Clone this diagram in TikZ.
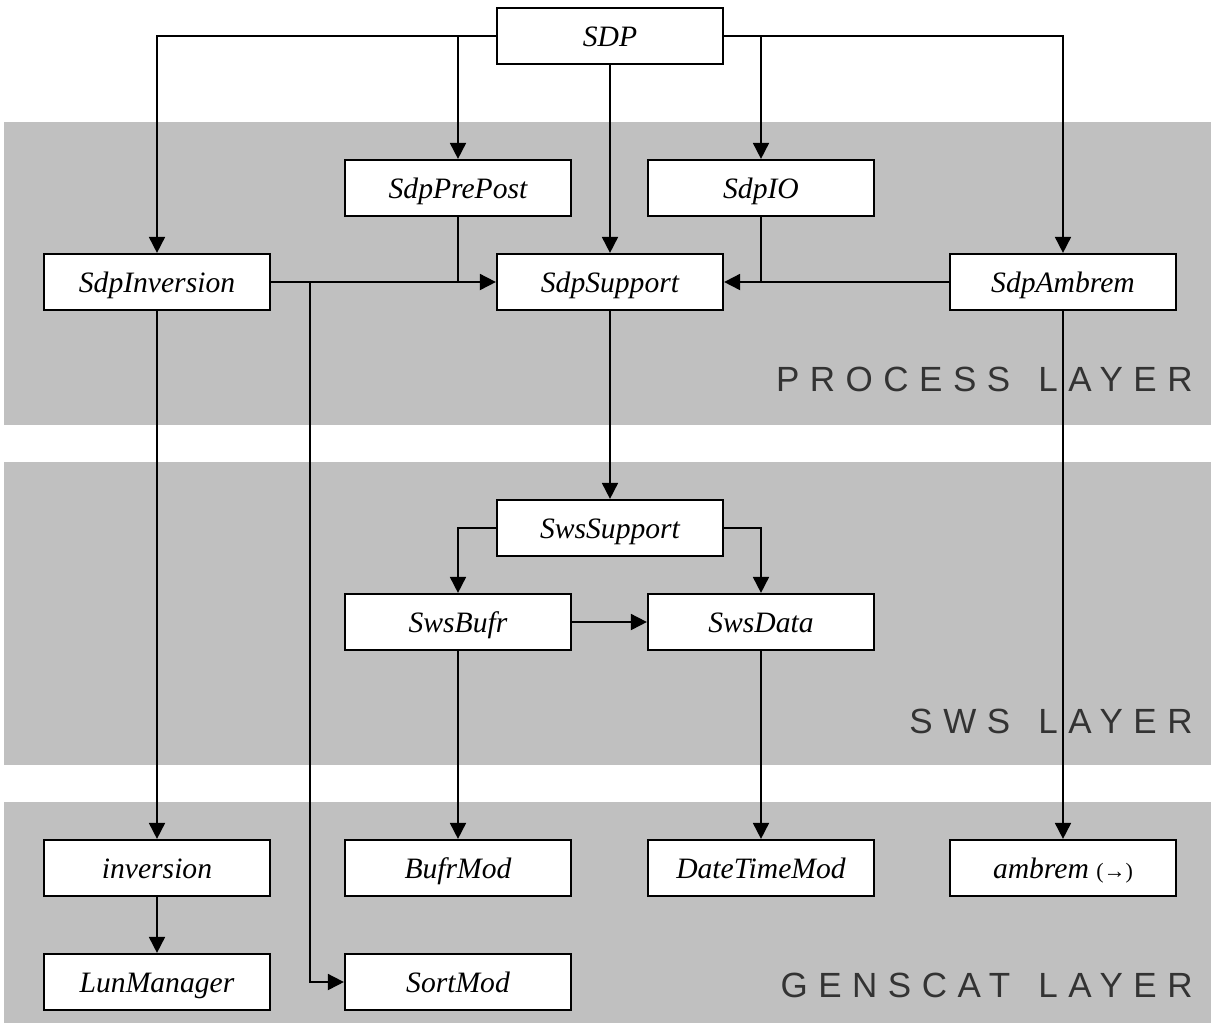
\documentclass[tikz,border=0pt]{standalone}
\usepackage{fontspec}
\setmainfont{Liberation Serif}
\newfontfamily\layerfont[LetterSpace=30]{Liberation Sans}
\usetikzlibrary{arrows.meta}
\definecolor{band}{HTML}{C0C0C0}
\definecolor{layertxt}{HTML}{333333}
\newcommand{\wgap}{\hspace{4pt}}
\tikzset{
  mod/.style={draw=black, line width=1.1pt, fill=white, minimum width=113pt, minimum height=28pt, inner sep=0pt,
    text height=13pt, text depth=3pt, font=\fontsize{14.8}{17}\selectfont\itshape},
  conn/.style={line width=0.9pt},
  arr/.style={conn, -{Triangle[length=8pt,width=8pt]}},
  layerlabel/.style={anchor=east, text=layertxt, font=\layerfont\fontsize{17.5}{19}\selectfont, inner sep=0pt}
}
\begin{document}
\begin{tikzpicture}[x=0.5pt,y=-0.5pt]
\useasboundingbox (0,0) rectangle (1211,1025);
% layer bands
\fill[band] (4,122) rectangle (1211,425);
\fill[band] (4,462) rectangle (1211,765);
\fill[band] (4,802) rectangle (1211,1023);
\node[layerlabel] (Lproc) at (1193,379) {PROCESS\wgap{} LAYER};
\node[layerlabel] (Lsws) at (1193,721) {SWS\wgap{} LAYER};
\node[layerlabel] (Lgen) at (1193,985) {GENSCAT\wgap{} LAYER};
% modules
\node[mod] (SDP) at (610,36) {SDP};
\node[mod] (SdpPrePost) at (458,188) {SdpPrePost};
\node[mod] (SdpIO) at (761,188) {SdpIO};
\node[mod] (SdpInversion) at (157,282) {SdpInversion};
\node[mod] (SdpSupport) at (610,282) {SdpSupport};
\node[mod] (SdpAmbrem) at (1063,282) {SdpAmbrem};
\node[mod] (SwsSupport) at (610,528) {SwsSupport};
\node[mod] (SwsBufr) at (458,622) {SwsBufr};
\node[mod] (SwsData) at (761,622) {SwsData};
\node[mod] (inversion) at (157,868) {inversion};
\node[mod] (BufrMod) at (458,868) {BufrMod};
\node[mod] (DateTimeMod) at (761,868) {DateTimeMod};
\node[mod] (ambrem) at (1063,868) {ambrem {\upshape\fontsize{11}{13}\selectfont(→)}};
\node[mod] (LunManager) at (157,982) {LunManager};
\node[mod] (SortMod) at (458,982) {SortMod};
% connectors
\draw[arr] (SDP.west) -| (SdpInversion.north);
\draw[arr] (SdpPrePost.north |- SDP.west) -- (SdpPrePost.north);
\draw[arr] (SDP.east) -| (SdpAmbrem.north);
\draw[arr] (SdpIO.north |- SDP.east) -- (SdpIO.north);
\draw[arr] (SDP.south) -- (SdpSupport.north);
\draw[arr] (SdpInversion.east) -- (SdpSupport.west);
\draw[conn] (SdpPrePost.south) -- (SdpPrePost.south |- SdpSupport.west);
\draw[arr] (SdpAmbrem.west) -- (SdpSupport.east);
\draw[conn] (SdpIO.south) -- (SdpIO.south |- SdpSupport.east);
\coordinate (tap) at (310,282);
\draw[arr] (tap) |- (SortMod.west);
\draw[arr] (SdpInversion.south) -- (inversion.north);
\draw[arr] (SdpAmbrem.south) -- (ambrem.north);
\draw[arr] (SdpSupport.south) -- (SwsSupport.north);
\draw[arr] (SwsSupport.west) -| (SwsBufr.north);
\draw[arr] (SwsSupport.east) -| (SwsData.north);
\draw[arr] (SwsBufr.east) -- (SwsData.west);
\draw[arr] (SwsBufr.south) -- (BufrMod.north);
\draw[arr] (SwsData.south) -- (DateTimeMod.north);
\draw[arr] (inversion.south) -- (LunManager.north);
\end{tikzpicture}
\end{document}
